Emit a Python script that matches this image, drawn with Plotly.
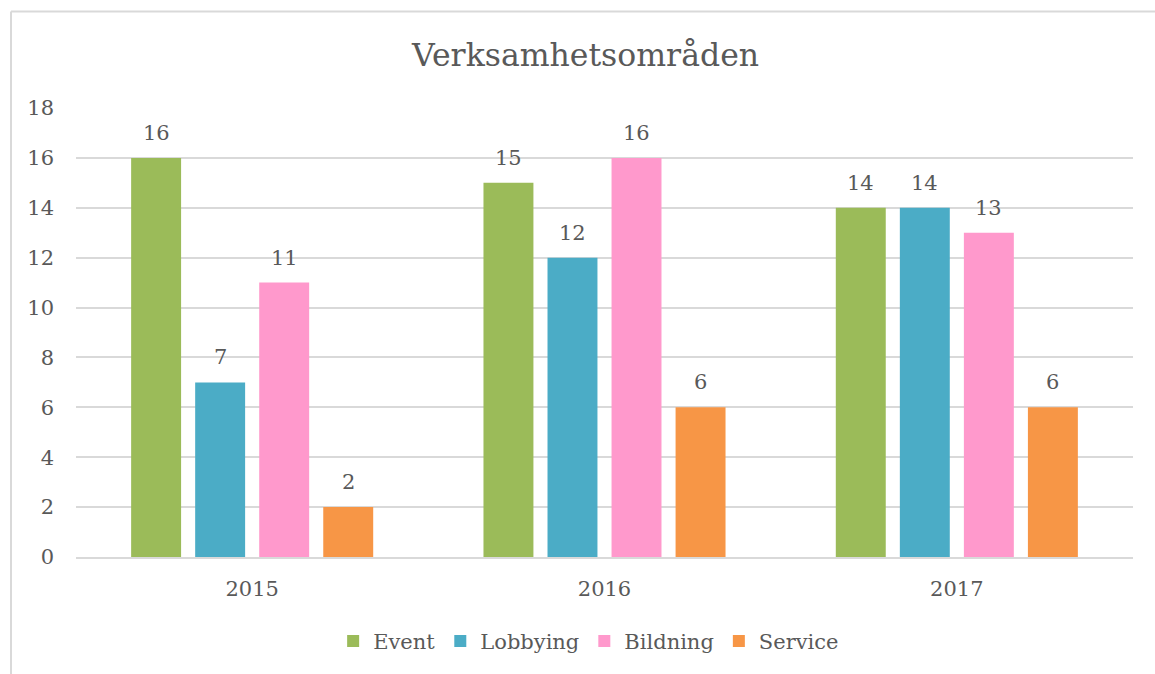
import plotly.graph_objects as go

years = ["2015", "2016", "2017"]
series_names = ["Event", "Lobbying", "Bildning", "Service"]
event = [16, 15, 14]
lobbying = [7, 12, 14]
bildning = [11, 16, 13]
service = [2, 6, 6]
colors = ["#9BBB59", "#4BACC6", "#FF99CC", "#F79646"]

FONT = "DejaVu Serif"
GRAY = "#595959"
SLOT_PX = 64  # pixel width of one bar slot within a group

fig = go.Figure()
annotations = []
all_vals = [event, lobbying, bildning, service]
for i, (name, vals, col) in enumerate(zip(series_names, all_vals, colors)):
    fig.add_trace(go.Bar(
        x=years, y=vals, name=name, marker=dict(color=col, line=dict(width=0)),
    ))
    for j, v in enumerate(vals):
        annotations.append(dict(
            x=j, y=v, xref="x", yref="y", text=str(v), showarrow=False,
            xshift=(i - 1.5) * SLOT_PX, yshift=25, yanchor="middle",
            font=dict(family=FONT, size=21, color=GRAY),
        ))

fig.update_layout(
    width=1155, height=674,
    margin=dict(l=76, r=22, t=108, b=105),
    paper_bgcolor="white", plot_bgcolor="white",
    barmode="group", bargap=0.273, bargroupgap=0.22,
    title=dict(text="Verksamhetsområden", x=0.507, xanchor="center", y=0.918, yanchor="middle",
               font=dict(family=FONT, size=31.5, color=GRAY)),
    font=dict(family=FONT, size=21, color=GRAY),
    legend=dict(orientation="h", x=0.485, xanchor="center", y=-0.188, yanchor="middle",
                font=dict(family=FONT, size=21, color=GRAY), traceorder="normal"),
    xaxis=dict(type="category", categoryorder="array", categoryarray=years,
               range=[-0.5, len(years) - 0.5],
               showgrid=False, showline=True, linecolor="#D9D9D9", linewidth=1.5, ticks="",
               ticklabelstandoff=12,
               tickfont=dict(family=FONT, size=21, color=GRAY)),
    yaxis=dict(range=[0, 18], dtick=2, showgrid=True, gridcolor="#D9D9D9", gridwidth=1.5,
               zeroline=False, showline=False, ticks="", ticklabelstandoff=21,
               tickfont=dict(family=FONT, size=21, color=GRAY)),
    annotations=annotations,
    shapes=[
        dict(type="line", xref="paper", yref="paper", x0=-0.0615, x1=1.03, y0=1.215, y1=1.215,
             line=dict(color="#D9D9D9", width=2)),
        dict(type="line", xref="paper", yref="paper", x0=-0.0615, x1=-0.0615, y0=1.215, y1=-0.3,
             line=dict(color="#D9D9D9", width=2)),
    ],
)
fig.write_html("out.html")
